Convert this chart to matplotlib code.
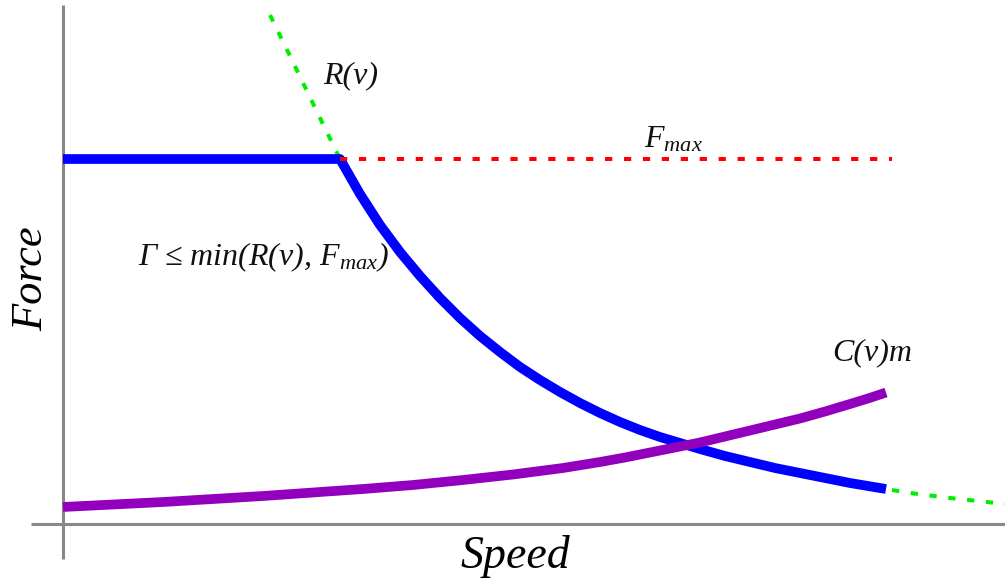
import numpy as np
import matplotlib.pyplot as plt

plt.rcParams['font.family'] = ['Liberation Serif', 'DejaVu Serif']
plt.rcParams['mathtext.fontset'] = 'custom'
plt.rcParams['mathtext.it'] = 'Liberation Serif:italic'
plt.rcParams['mathtext.rm'] = 'Liberation Serif:italic'

# resistance curve R(v) (speed, force in arbitrary units)
speed_r = np.array([2.07, 2.27, 2.42, 2.57, 2.77, 2.97, 3.17, 3.37, 3.57, 3.77, 3.97, 4.17,
                    4.37, 4.57, 4.77, 4.97, 5.17, 5.37, 5.57, 5.77, 5.97, 6.17, 6.37, 6.62,
                    6.87, 7.12, 7.37, 7.62, 7.87, 8.05, 8.23, 8.47, 8.87, 9.24, 9.42])
force_r = np.array([5.09, 4.68, 4.37, 4.06, 3.65, 3.30, 2.99, 2.72, 2.48, 2.26, 2.06, 1.88,
                    1.72, 1.57, 1.44, 1.32, 1.21, 1.11, 1.02, 0.94, 0.87, 0.81, 0.75, 0.68,
                    0.62, 0.56, 0.51, 0.46, 0.41, 0.38, 0.35, 0.31, 0.26, 0.22, 0.20])

# max tractive force and the end of the operating range
f_max = 3.65
v_knee = 2.77
v_end = 8.23
f_max_line_end = 8.29

# C(v)m curve
speed_c = np.array([0, 0.5, 1.0, 1.5, 2.0, 2.5, 3.0, 3.5, 4.0, 4.5, 5.0, 5.37,
                    5.62, 5.87, 6.12, 6.37, 6.62, 6.87, 7.12, 7.37, 7.62, 7.87, 8.05, 8.23])
force_c = np.array([0.17, 0.195, 0.22, 0.25, 0.28, 0.315, 0.35, 0.39, 0.44, 0.495, 0.56, 0.62,
                    0.665, 0.715, 0.765, 0.815, 0.875, 0.935, 0.995, 1.055, 1.125, 1.20, 1.255, 1.315])

# usable force = min(R(v), Fmax) from standstill up to v_end
in_range = (speed_r >= v_knee) & (speed_r <= v_end)
speed_b = np.concatenate([[0], speed_r[in_range]])
force_b = np.minimum(np.concatenate([[f_max], force_r[in_range]]), f_max)

fig = plt.figure(figsize=(10.05, 5.82), dpi=100)
ax = fig.add_axes([0, 0, 1, 1])
ax.set_xlim(-0.63, 9.42)
ax.set_ylim(-0.58, 5.24)
ax.axis('off')

# axes drawn by hand
ax.plot([0, 0], [-0.35, 5.19], color='#888888', lw=2.2, solid_capstyle='butt', zorder=1)
ax.plot([-0.32, 9.42], [0, 0], color='#888888', lw=2.2, solid_capstyle='butt', zorder=1)

ax.plot(speed_r, force_r, color='#00ee00', lw=2.9, dashes=(1.8, 2.9), zorder=2)
ax.plot(speed_b, force_b, color='#0000ff', lw=7.0, solid_capstyle='butt',
        solid_joinstyle='round', zorder=3)
ax.plot([v_knee, f_max_line_end], [f_max, f_max], color='#ff0000', lw=2.9,
        dashes=(1.8, 2.9), zorder=4)
ax.plot(speed_c, force_c, color='#9300bd', lw=7.0, solid_capstyle='butt',
        solid_joinstyle='round', zorder=5)

lab = dict(fontsize=23, style='italic', color='#111111')
ax.text(2.88, 4.41, 'R(v)', ha='center', va='baseline', **lab)
ax.text(6.10, 3.76, r'$F_{max}$', ha='center', va='baseline', **lab)
ax.text(0.75, 2.59, r'$Γ\ ≤\ min(R(v),\,F_{max})$', ha='left', va='baseline', **lab)
ax.text(7.69, 1.64, 'C(v)m', ha='left', va='baseline', **lab)

ax.text(4.52, -0.44, 'Speed', ha='center', va='baseline', fontsize=33, style='italic')
ax.text(-0.32, 2.45, 'Force', ha='center', va='center', rotation=90, fontsize=32,
        style='italic')

fig.savefig('out.png', dpi=100)
